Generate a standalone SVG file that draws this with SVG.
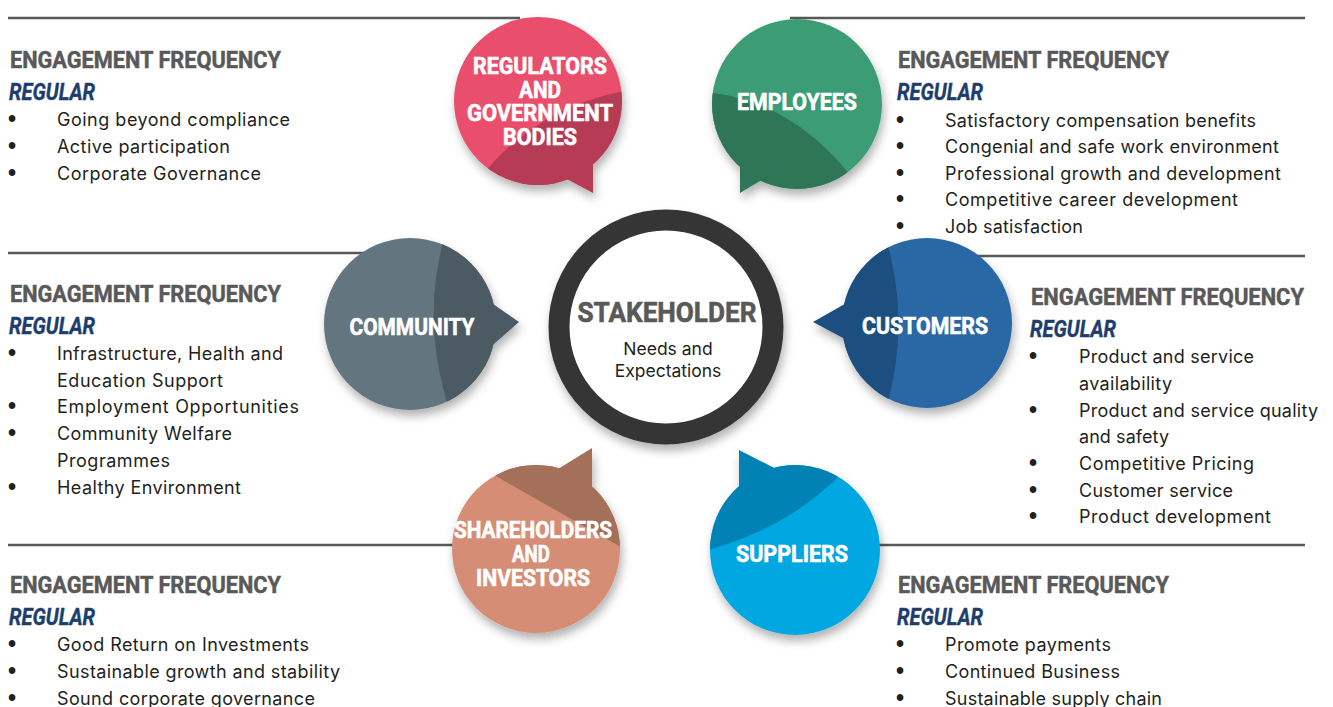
<svg xmlns="http://www.w3.org/2000/svg" width="1333" height="707" viewBox="0 0 1333 707">
<style>
.hd{font-family:Roboto,"Liberation Sans",sans-serif;font-weight:700;font-size:24px;fill:#595959;stroke:#595959;stroke-width:0.5}
.rg{font-family:Roboto,"Liberation Sans",sans-serif;font-weight:700;font-style:italic;font-size:24px;fill:#1d3e6d;stroke:#1d3e6d;stroke-width:0.4}
.bt{font-family:Inter,"Noto Sans",sans-serif;font-size:18px;fill:#231f20}
.bl{font-family:"Liberation Sans",sans-serif;font-size:23px;font-weight:700;fill:#231f20}
.bw{font-family:Roboto,"Liberation Sans",sans-serif;font-weight:700;font-size:23px;fill:#ffffff;stroke:#ffffff;stroke-width:0.6}
.ln{stroke:#595959;stroke-width:2.5;fill:none}
</style>
<defs>
<filter id="sh" x="-30%" y="-30%" width="160%" height="170%">
<feDropShadow dx="2" dy="6" stdDeviation="5" flood-color="#000" flood-opacity="0.3"/>
</filter>
<clipPath id="c1"><circle cx="538" cy="101" r="84"/></clipPath>
<clipPath id="c2"><circle cx="797" cy="104" r="85"/></clipPath>
<clipPath id="c3"><circle cx="410" cy="324" r="86"/></clipPath>
<clipPath id="c4"><circle cx="927" cy="323" r="85"/></clipPath>
<clipPath id="c5"><circle cx="536" cy="549" r="84"/></clipPath>
<clipPath id="c6"><circle cx="795" cy="550" r="85"/></clipPath>
</defs>
<rect width="1333" height="707" fill="#ffffff"/>

<g id="connectors">
<line class="ln" x1="8" y1="18" x2="520" y2="18"/>
<line class="ln" x1="790" y1="18" x2="1305" y2="18"/>
<line class="ln" x1="8" y1="253" x2="380" y2="253"/>
<line class="ln" x1="950" y1="256" x2="1305" y2="256"/>
<line class="ln" x1="8" y1="545" x2="470" y2="545"/>
<line class="ln" x1="860" y1="545" x2="1305" y2="545"/>
</g>

<g id="center">
<circle cx="666" cy="327" r="107" fill="#ffffff" stroke="#353535" stroke-width="21" filter="url(#sh)"/>
<text x="667" y="322" text-anchor="middle" font-family="Roboto,'Liberation Sans',sans-serif" font-weight="700" font-size="28" fill="#595959" stroke="#595959" stroke-width="0.6" textLength="179" lengthAdjust="spacingAndGlyphs">STAKEHOLDER</text>
<text text-anchor="middle" font-family="Inter,'Noto Sans',sans-serif" font-size="17.5" fill="#231f20"><tspan x="668" y="355">Needs and</tspan><tspan x="668" y="377">Expectations</tspan></text>
</g>

<g id="regulators">
<g filter="url(#sh)">
<circle cx="538" cy="101" r="84" fill="#e9506c"/>
<path d="M485,172 Q540,105 630,90 L640,200 L470,200 Z" fill="#b63a54" clip-path="url(#c1)"/>
<polygon points="550,170 593,193 593,150" fill="#b63a54"/>
</g>
<text class="bw" text-anchor="middle"><tspan x="540" y="74" textLength="134" lengthAdjust="spacingAndGlyphs">REGULATORS</tspan><tspan x="540" y="98" textLength="42" lengthAdjust="spacingAndGlyphs">AND</tspan><tspan x="540" y="121" textLength="146" lengthAdjust="spacingAndGlyphs">GOVERNMENT</tspan><tspan x="540" y="145" textLength="74" lengthAdjust="spacingAndGlyphs">BODIES</tspan></text>
</g>

<g id="employees">
<g filter="url(#sh)">
<circle cx="797" cy="104" r="85" fill="#3b9c74"/>
<path d="M705,92 Q790,100 850,175 L850,200 L700,200 Z" fill="#2d7657" clip-path="url(#c2)"/>
<polygon points="780,169 740,193 740,150" fill="#2d7657"/>
</g>
<text class="bw" x="797" y="110" text-anchor="middle" textLength="120" lengthAdjust="spacingAndGlyphs">EMPLOYEES</text>
</g>

<g id="community">
<g filter="url(#sh)">
<circle cx="410" cy="324" r="86" fill="#647680"/>
<path d="M445,235 Q420,320 450,412 L510,412 L510,235 Z" fill="#4c5a63" clip-path="url(#c3)"/>
<polygon points="470,288 519,322 470,365" fill="#4c5a63"/>
</g>
<text class="bw" x="412" y="335" text-anchor="middle" textLength="125" lengthAdjust="spacingAndGlyphs">COMMUNITY</text>
</g>

<g id="customers">
<g filter="url(#sh)">
<circle cx="927" cy="323" r="85" fill="#2968a5"/>
<path d="M885,235 Q912,323 885,412 L835,412 L835,235 Z" fill="#1e4f80" clip-path="url(#c4)"/>
<polygon points="873,288 813,322 873,354" fill="#1e4f80"/>
</g>
<text class="bw" x="925" y="334" text-anchor="middle" textLength="126" lengthAdjust="spacingAndGlyphs">CUSTOMERS</text>
</g>

<g id="shareholders">
<g filter="url(#sh)">
<circle cx="536" cy="549" r="84" fill="#d68d74"/>
<path d="M480,467 Q555,510 630,552 L630,460 L480,460 Z" fill="#a46f5a" clip-path="url(#c5)"/>
<polygon points="550,474 592,448 592,500" fill="#a46f5a"/>
</g>
<text class="bw" text-anchor="middle"><tspan x="533" y="538" textLength="158" lengthAdjust="spacingAndGlyphs">SHAREHOLDERS</tspan><tspan x="531" y="562" textLength="38" lengthAdjust="spacingAndGlyphs">AND</tspan><tspan x="533" y="586" textLength="114" lengthAdjust="spacingAndGlyphs">INVESTORS</tspan></text>
</g>

<g id="suppliers">
<g filter="url(#sh)">
<circle cx="795" cy="550" r="85" fill="#00a7e1"/>
<path d="M700,552 Q790,530 850,465 L700,460 Z" fill="#0082b4" clip-path="url(#c6)"/>
<polygon points="790,476 739,450 739,500" fill="#0082b4"/>
</g>
<text class="bw" x="792" y="562" text-anchor="middle" textLength="112" lengthAdjust="spacingAndGlyphs">SUPPLIERS</text>
</g>

<g id="text-regulators">
<text class="hd" x="10" y="68" textLength="271" lengthAdjust="spacingAndGlyphs">ENGAGEMENT FREQUENCY</text>
<text class="rg" x="9" y="100" textLength="86" lengthAdjust="spacingAndGlyphs">REGULAR</text>
<text class="bl" x="8" y="127">•</text><text class="bt" x="57" y="126" textLength="233">Going beyond compliance</text>
<text class="bl" x="8" y="154">•</text><text class="bt" x="57" y="153" textLength="173">Active participation</text>
<text class="bl" x="8" y="181">•</text><text class="bt" x="57" y="180" textLength="204">Corporate Governance</text>
</g>

<g id="text-employees">
<text class="hd" x="898" y="68" textLength="271" lengthAdjust="spacingAndGlyphs">ENGAGEMENT FREQUENCY</text>
<text class="rg" x="897" y="100" textLength="86" lengthAdjust="spacingAndGlyphs">REGULAR</text>
<text class="bl" x="896" y="128">•</text><text class="bt" x="945" y="127" textLength="311">Satisfactory compensation benefits</text>
<text class="bl" x="896" y="154">•</text><text class="bt" x="945" y="153" textLength="334">Congenial and safe work environment</text>
<text class="bl" x="896" y="181">•</text><text class="bt" x="945" y="180" textLength="336">Professional growth and development</text>
<text class="bl" x="896" y="207">•</text><text class="bt" x="945" y="206" textLength="293">Competitive career development</text>
<text class="bl" x="896" y="234">•</text><text class="bt" x="945" y="233" textLength="138">Job satisfaction</text>
</g>

<g id="text-community">
<text class="hd" x="10" y="302" textLength="271" lengthAdjust="spacingAndGlyphs">ENGAGEMENT FREQUENCY</text>
<text class="rg" x="9" y="334" textLength="86" lengthAdjust="spacingAndGlyphs">REGULAR</text>
<text class="bl" x="8" y="361">•</text><text class="bt" x="57" y="360" textLength="226">Infrastructure, Health and</text>
<text class="bt" x="57" y="387" textLength="166">Education Support</text>
<text class="bl" x="8" y="414">•</text><text class="bt" x="57" y="413" textLength="242">Employment Opportunities</text>
<text class="bl" x="8" y="441">•</text><text class="bt" x="57" y="440" textLength="175">Community Welfare</text>
<text class="bt" x="57" y="467" textLength="113">Programmes</text>
<text class="bl" x="8" y="495">•</text><text class="bt" x="57" y="494" textLength="184">Healthy Environment</text>
</g>

<g id="text-customers">
<text class="hd" x="1031" y="305" textLength="273" lengthAdjust="spacingAndGlyphs">ENGAGEMENT FREQUENCY</text>
<text class="rg" x="1030" y="337" textLength="86" lengthAdjust="spacingAndGlyphs">REGULAR</text>
<text class="bl" x="1029" y="364">•</text><text class="bt" x="1079" y="363" textLength="175">Product and service</text>
<text class="bt" x="1079" y="390" textLength="93">availability</text>
<text class="bl" x="1029" y="418">•</text><text class="bt" x="1079" y="417" textLength="239">Product and service quality</text>
<text class="bt" x="1079" y="443" textLength="90">and safety</text>
<text class="bl" x="1029" y="471">•</text><text class="bt" x="1079" y="470" textLength="175">Competitive Pricing</text>
<text class="bl" x="1029" y="498">•</text><text class="bt" x="1079" y="497" textLength="154">Customer service</text>
<text class="bl" x="1029" y="524">•</text><text class="bt" x="1079" y="523" textLength="192">Product development</text>
</g>

<g id="text-shareholders">
<text class="hd" x="10" y="593" textLength="271" lengthAdjust="spacingAndGlyphs">ENGAGEMENT FREQUENCY</text>
<text class="rg" x="9" y="625" textLength="86" lengthAdjust="spacingAndGlyphs">REGULAR</text>
<text class="bl" x="8" y="652">•</text><text class="bt" x="57" y="651" textLength="252">Good Return on Investments</text>
<text class="bl" x="8" y="679">•</text><text class="bt" x="57" y="678" textLength="283">Sustainable growth and stability</text>
<text class="bl" x="8" y="706">•</text><text class="bt" x="57" y="705" textLength="258">Sound corporate governance</text>
</g>

<g id="text-suppliers">
<text class="hd" x="898" y="593" textLength="271" lengthAdjust="spacingAndGlyphs">ENGAGEMENT FREQUENCY</text>
<text class="rg" x="897" y="625" textLength="86" lengthAdjust="spacingAndGlyphs">REGULAR</text>
<text class="bl" x="896" y="652">•</text><text class="bt" x="945" y="651" textLength="166">Promote payments</text>
<text class="bl" x="896" y="679">•</text><text class="bt" x="945" y="678" textLength="175">Continued Business</text>
<text class="bl" x="896" y="706">•</text><text class="bt" x="945" y="705" textLength="217">Sustainable supply chain</text>
</g>
</svg>
